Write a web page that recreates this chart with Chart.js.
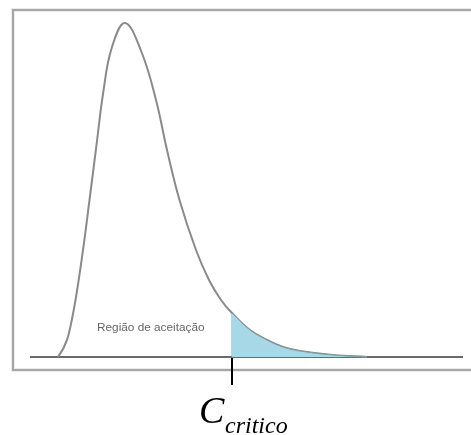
<!DOCTYPE html>
<html>
<head>
<meta charset="utf-8">
<script src="https://cdn.jsdelivr.net/npm/chart.js@4"></script>
<style>
  html, body { margin: 0; padding: 0; background: #fff; }
  #wrap { position: relative; width: 471px; height: 435px; overflow: hidden; }
  #chart { position: absolute; left: 0; top: 0; }
  .txt { position: absolute; white-space: nowrap; }
  #region { left: 97px; top: 320px; font: 11.8px 'Liberation Sans', Arial, sans-serif; line-height: 14px; color: #666; }
  #cbig { left: 199px; top: 391px; font: italic 38px 'Liberation Serif', 'Times New Roman', serif; line-height: 38px; color: #000; }
  #csub { left: 225px; top: 413px; font: italic 24px 'Liberation Serif', 'Times New Roman', serif; line-height: 24px; color: #000; }
</style>
</head>
<body>
<div id="wrap">
  <canvas id="chart" width="471" height="435"></canvas>
  <div class="txt" id="region">Região de aceitação</div>
  <div class="txt" id="cbig">C</div>
  <div class="txt" id="csub">critico</div>
</div>
<script>
// density curve (x = statistic, y = density)
const curveX = [0, 0.6, 1.05, 1.75, 2.5, 3.15, 3.85, 4.53, 5.37, 6.7, 8.35, 9.8, 10.9, 12.15, 13.8, 15.1, 16.3, 17.4, 19.2, 20.9, 22.5, 24.2, 27.5, 30.9];
const curveY = [0, 0.010, 0.022, 0.057, 0.107, 0.157, 0.212, 0.265, 0.309, 0.334, 0.305, 0.257, 0.207, 0.157, 0.107, 0.077, 0.057, 0.044, 0.027, 0.017, 0.010, 0.006, 0.002, 0];
const critical = 17.4;
const axisRange = [-2.8, 40.5];

const curve = curveX.map((x, i) => ({ x: x, y: curveY[i] }));
const tail = curve.filter(p => p.x >= critical);
const edgeTop = curveY[curveX.indexOf(critical)];

// grey frame around the plot
const framePlugin = {
  id: 'frame',
  beforeDraw(chart) {
    const ctx = chart.ctx;
    ctx.save();
    ctx.strokeStyle = 'rgba(0,0,0,0.08)';
    ctx.lineWidth = 4;
    ctx.strokeRect(13, 10, 480, 360);
    ctx.strokeStyle = '#a6a6a6';
    ctx.lineWidth = 2;
    ctx.strokeRect(13, 10, 480, 360);
    ctx.restore();
  }
};

new Chart(document.getElementById('chart'), {
  type: 'scatter',
  data: {
    datasets: [
      {
        data: tail,
        showLine: true,
        borderColor: '#7f9aa3',
        borderWidth: 1,
        backgroundColor: '#a6d8e8',
        fill: 'origin',
        pointRadius: 0,
        tension: 0.4
      },
      {
        data: [{ x: critical, y: 0 }, { x: critical, y: edgeTop }],
        showLine: true,
        borderColor: '#8aa4ad',
        borderWidth: 1,
        pointRadius: 0,
        fill: false
      },
      {
        data: curve,
        showLine: true,
        borderColor: '#8a8a8a',
        borderWidth: 2,
        pointRadius: 0,
        fill: false,
        tension: 0.4
      },
      {
        data: [{ x: axisRange[0], y: 0 }, { x: axisRange[1], y: 0 }],
        showLine: true,
        borderColor: '#6b6b6b',
        borderWidth: 2,
        pointRadius: 0,
        fill: false
      },
      {
        data: [{ x: critical, y: 0 }, { x: critical, y: -0.028 }],
        showLine: true,
        borderColor: '#000',
        borderWidth: 2,
        pointRadius: 0,
        fill: false
      }
    ]
  },
  options: {
    responsive: false,
    animation: false,
    layout: { padding: { left: 30, right: 8, top: 10, bottom: 50 } },
    plugins: { legend: { display: false }, tooltip: { enabled: false } },
    scales: {
      x: { type: 'linear', min: axisRange[0], max: axisRange[1], display: false },
      y: { min: -0.028, max: 0.347, display: false }
    }
  },
  plugins: [framePlugin]
});
</script>
</body>
</html>
